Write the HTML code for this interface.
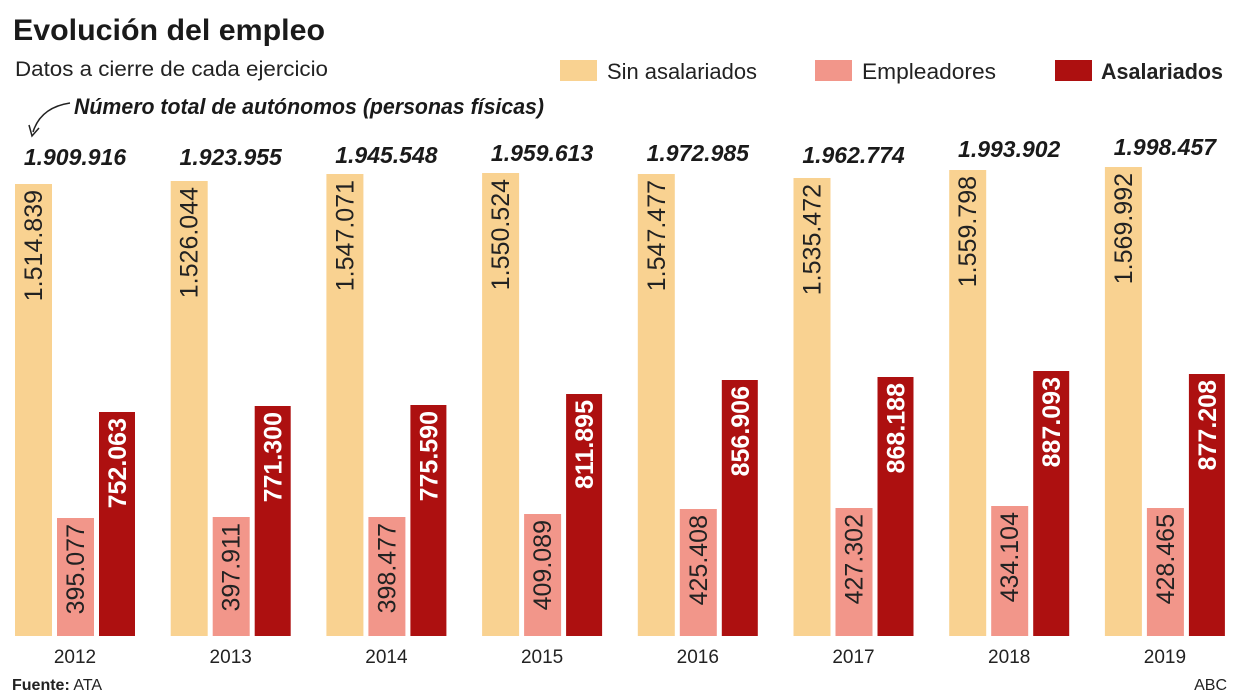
<!DOCTYPE html>
<html><head><meta charset="utf-8"><style>
html,body{margin:0;padding:0;background:#fff}
svg{display:block;font-family:"Liberation Sans",sans-serif}
</style></head><body>
<svg width="1240" height="698" viewBox="0 0 1240 698" xmlns="http://www.w3.org/2000/svg">
<text x="13" y="40" font-size="30" font-weight="bold" fill="#1a1a1a" textLength="312" lengthAdjust="spacingAndGlyphs">Evolución del empleo</text>
<text x="15" y="76" font-size="21" fill="#222" textLength="313" lengthAdjust="spacingAndGlyphs">Datos a cierre de cada ejercicio</text>
<rect x="560" y="60" width="37" height="21" fill="#f9d291"/>
<text x="607" y="79" font-size="22" fill="#222" textLength="150" lengthAdjust="spacingAndGlyphs">Sin asalariados</text>
<rect x="815" y="60" width="37" height="21" fill="#f2968a"/>
<text x="862" y="79" font-size="22" fill="#222" textLength="134" lengthAdjust="spacingAndGlyphs">Empleadores</text>
<rect x="1055" y="60" width="37" height="21" fill="#ad1010"/>
<text x="1101" y="79" font-size="22" font-weight="bold" fill="#222" textLength="122" lengthAdjust="spacingAndGlyphs">Asalariados</text>
<text x="74" y="114" font-size="22" font-weight="bold" font-style="italic" fill="#1a1a1a" textLength="470" lengthAdjust="spacingAndGlyphs">Número total de autónomos (personas físicas)</text>
<path d="M70 103 C50 106,38 116,33 132" fill="none" stroke="#222" stroke-width="1.5"/>
<path d="M29 125 L32 136 L39 128" fill="none" stroke="#222" stroke-width="1.5"/>

<g font-size="25">
<g transform="translate(0,0)">
<text x="75" y="165" text-anchor="middle" font-weight="bold" font-style="italic" fill="#1a1a1a" font-size="23">1.909.916</text>
<rect x="15" y="184" width="37" height="452" fill="#f9d291"/>
<rect x="57" y="518" width="37" height="118" fill="#f2968a"/>
<rect x="99" y="412" width="36" height="224" fill="#ad1010"/>
<text transform="translate(42,190) rotate(-90)" text-anchor="end" fill="#222">1.514.839</text>
<text transform="translate(84,524) rotate(-90)" text-anchor="end" fill="#222">395.077</text>
<text transform="translate(126,418) rotate(-90)" text-anchor="end" fill="#fff" font-weight="bold">752.063</text>
<text x="75" y="663" text-anchor="middle" font-size="19" fill="#222">2012</text>
</g>
<g transform="translate(155.7,0)">
<text x="75" y="165" text-anchor="middle" font-weight="bold" font-style="italic" fill="#1a1a1a" font-size="23">1.923.955</text>
<rect x="15" y="181" width="37" height="455" fill="#f9d291"/>
<rect x="57" y="517" width="37" height="119" fill="#f2968a"/>
<rect x="99" y="406" width="36" height="230" fill="#ad1010"/>
<text transform="translate(42,187) rotate(-90)" text-anchor="end" fill="#222">1.526.044</text>
<text transform="translate(84,523) rotate(-90)" text-anchor="end" fill="#222">397.911</text>
<text transform="translate(126,412) rotate(-90)" text-anchor="end" fill="#fff" font-weight="bold">771.300</text>
<text x="75" y="663" text-anchor="middle" font-size="19" fill="#222">2013</text>
</g>
<g transform="translate(311.4,0)">
<text x="75" y="163" text-anchor="middle" font-weight="bold" font-style="italic" fill="#1a1a1a" font-size="23">1.945.548</text>
<rect x="15" y="174" width="37" height="462" fill="#f9d291"/>
<rect x="57" y="517" width="37" height="119" fill="#f2968a"/>
<rect x="99" y="405" width="36" height="231" fill="#ad1010"/>
<text transform="translate(42,180) rotate(-90)" text-anchor="end" fill="#222">1.547.071</text>
<text transform="translate(84,523) rotate(-90)" text-anchor="end" fill="#222">398.477</text>
<text transform="translate(126,411) rotate(-90)" text-anchor="end" fill="#fff" font-weight="bold">775.590</text>
<text x="75" y="663" text-anchor="middle" font-size="19" fill="#222">2014</text>
</g>
<g transform="translate(467.1,0)">
<text x="75" y="161" text-anchor="middle" font-weight="bold" font-style="italic" fill="#1a1a1a" font-size="23">1.959.613</text>
<rect x="15" y="173" width="37" height="463" fill="#f9d291"/>
<rect x="57" y="514" width="37" height="122" fill="#f2968a"/>
<rect x="99" y="394" width="36" height="242" fill="#ad1010"/>
<text transform="translate(42,179) rotate(-90)" text-anchor="end" fill="#222">1.550.524</text>
<text transform="translate(84,520) rotate(-90)" text-anchor="end" fill="#222">409.089</text>
<text transform="translate(126,400) rotate(-90)" text-anchor="end" fill="#fff" font-weight="bold">811.895</text>
<text x="75" y="663" text-anchor="middle" font-size="19" fill="#222">2015</text>
</g>
<g transform="translate(622.8,0)">
<text x="75" y="161" text-anchor="middle" font-weight="bold" font-style="italic" fill="#1a1a1a" font-size="23">1.972.985</text>
<rect x="15" y="174" width="37" height="462" fill="#f9d291"/>
<rect x="57" y="509" width="37" height="127" fill="#f2968a"/>
<rect x="99" y="380" width="36" height="256" fill="#ad1010"/>
<text transform="translate(42,180) rotate(-90)" text-anchor="end" fill="#222">1.547.477</text>
<text transform="translate(84,515) rotate(-90)" text-anchor="end" fill="#222">425.408</text>
<text transform="translate(126,386) rotate(-90)" text-anchor="end" fill="#fff" font-weight="bold">856.906</text>
<text x="75" y="663" text-anchor="middle" font-size="19" fill="#222">2016</text>
</g>
<g transform="translate(778.5,0)">
<text x="75" y="163" text-anchor="middle" font-weight="bold" font-style="italic" fill="#1a1a1a" font-size="23">1.962.774</text>
<rect x="15" y="178" width="37" height="458" fill="#f9d291"/>
<rect x="57" y="508" width="37" height="128" fill="#f2968a"/>
<rect x="99" y="377" width="36" height="259" fill="#ad1010"/>
<text transform="translate(42,184) rotate(-90)" text-anchor="end" fill="#222">1.535.472</text>
<text transform="translate(84,514) rotate(-90)" text-anchor="end" fill="#222">427.302</text>
<text transform="translate(126,383) rotate(-90)" text-anchor="end" fill="#fff" font-weight="bold">868.188</text>
<text x="75" y="663" text-anchor="middle" font-size="19" fill="#222">2017</text>
</g>
<g transform="translate(934.2,0)">
<text x="75" y="157" text-anchor="middle" font-weight="bold" font-style="italic" fill="#1a1a1a" font-size="23">1.993.902</text>
<rect x="15" y="170" width="37" height="466" fill="#f9d291"/>
<rect x="57" y="506" width="37" height="130" fill="#f2968a"/>
<rect x="99" y="371" width="36" height="265" fill="#ad1010"/>
<text transform="translate(42,176) rotate(-90)" text-anchor="end" fill="#222">1.559.798</text>
<text transform="translate(84,512) rotate(-90)" text-anchor="end" fill="#222">434.104</text>
<text transform="translate(126,377) rotate(-90)" text-anchor="end" fill="#fff" font-weight="bold">887.093</text>
<text x="75" y="663" text-anchor="middle" font-size="19" fill="#222">2018</text>
</g>
<g transform="translate(1089.9,0)">
<text x="75" y="155" text-anchor="middle" font-weight="bold" font-style="italic" fill="#1a1a1a" font-size="23">1.998.457</text>
<rect x="15" y="167" width="37" height="469" fill="#f9d291"/>
<rect x="57" y="508" width="37" height="128" fill="#f2968a"/>
<rect x="99" y="374" width="36" height="262" fill="#ad1010"/>
<text transform="translate(42,173) rotate(-90)" text-anchor="end" fill="#222">1.569.992</text>
<text transform="translate(84,514) rotate(-90)" text-anchor="end" fill="#222">428.465</text>
<text transform="translate(126,380) rotate(-90)" text-anchor="end" fill="#fff" font-weight="bold">877.208</text>
<text x="75" y="663" text-anchor="middle" font-size="19" fill="#222">2019</text>
</g>
</g>
<text x="12" y="690" font-size="16" fill="#222"><tspan font-weight="bold">Fuente:</tspan> ATA</text>
<text x="1227" y="690" font-size="16" fill="#222" text-anchor="end">ABC</text>
</svg>
</body></html>
